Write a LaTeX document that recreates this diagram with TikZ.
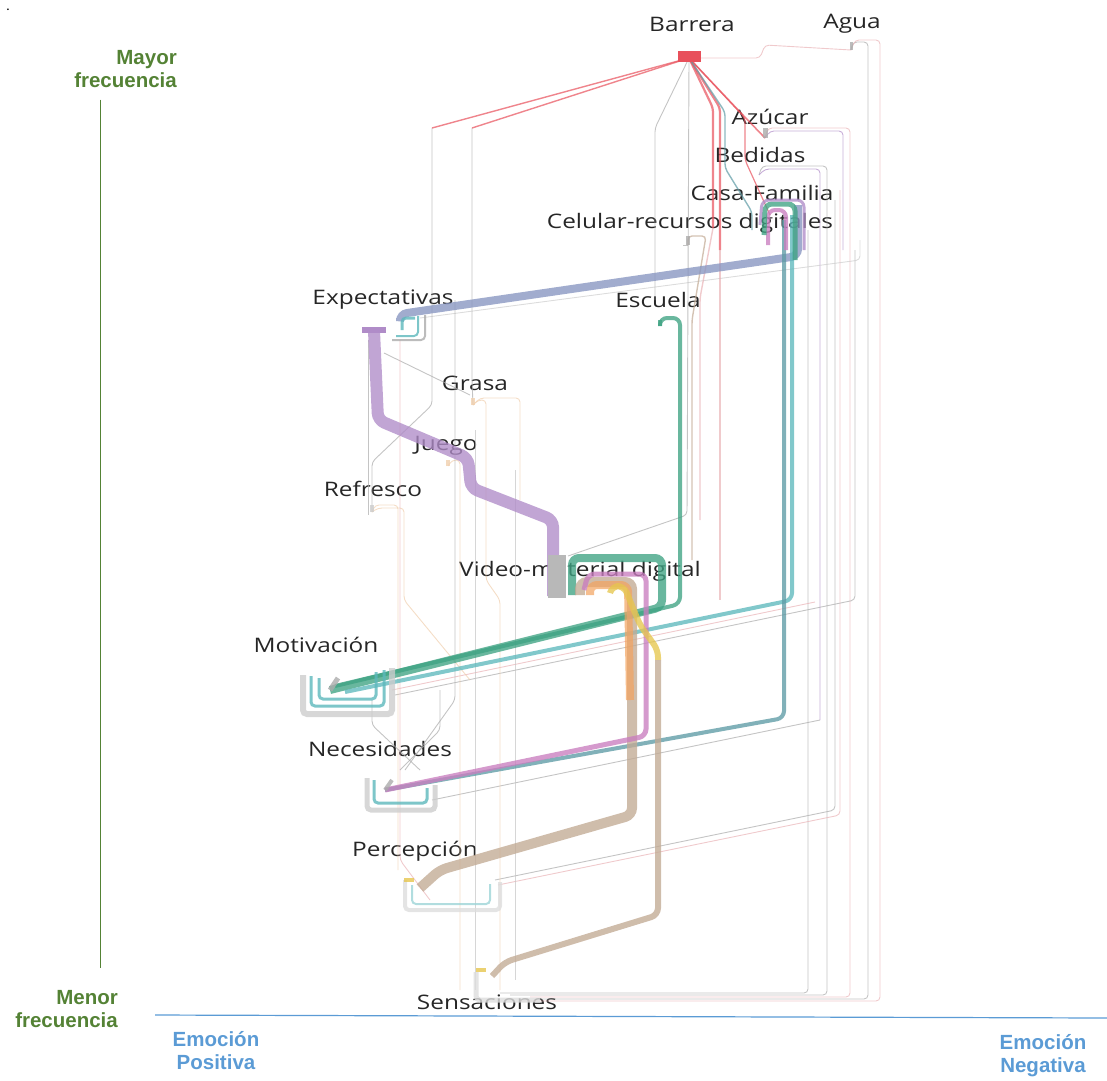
\documentclass[tikz,border=0pt]{standalone}
\usepackage{fontspec}
\setmainfont{Open Sans}
\newfontfamily\nodofont[FakeStretch=1.22]{Open Sans}
\newfontfamily\axisfont{Liberation Sans}
\usetikzlibrary{positioning,calc}

\definecolor{rojobarrera}{HTML}{E8505B}
\definecolor{morado}{HTML}{B08CC8}
\definecolor{pizarra}{HTML}{8795C0}
\definecolor{verde}{HTML}{3FA383}
\definecolor{turquesa}{HTML}{5DB8BC}
\definecolor{acero}{HTML}{5E9BA5}
\definecolor{rosa}{HTML}{C97EBF}
\definecolor{tostado}{HTML}{C2AA94}
\definecolor{naranja}{HTML}{F2A35E}
\definecolor{amarillo}{HTML}{E6C64E}
\definecolor{gris}{HTML}{ABABAB}
\definecolor{rosapalido}{HTML}{E9B3B7}
\definecolor{beige}{HTML}{F0CFAE}
\definecolor{ejeverde}{HTML}{548235}
\definecolor{ejeazul}{HTML}{5B9BD5}

\tikzset{
  etiqueta/.style={font=\nodofont\fontsize{20}{23}\selectfont, text=black!85, inner sep=0pt},
  eje/.style={font=\axisfont\bfseries\fontsize{20.5}{23}\selectfont, inner sep=0pt},
  flujo/.style={line width=#1, rounded corners=7pt, opacity=.78},
  hilo/.style={line width=.9pt, rounded corners=4pt, opacity=.7},
  puerto/.style={line width=#1, rounded corners=4pt, opacity=.8}
}

\begin{document}
\begin{tikzpicture}[x=1pt,y=-1pt]
\useasboundingbox (0,0) rectangle (1107,1080);

% ejes
\node[font=\bfseries] (punto) at (8,10) {.};
\node[eje, text=ejeverde, align=right, anchor=north east] (mayor) at (177,50) {Mayor\\frecuencia};
\node[eje, text=ejeverde, align=right, anchor=north east] (menor) at (118,990) {Menor\\frecuencia};
\draw[ejeverde, line width=1pt] (mayor.south -| 100,0) ++(0,12) -- (100,968);
\coordinate (ejeizq) at (155,1015);
\coordinate (ejeder) at (1107,1018);
\draw[ejeazul, line width=1.2pt] (ejeizq) -- (ejeder);
\node[eje, text=ejeazul, align=center] (positiva) at (216,1051) {Emoción\\Positiva};
\node[eje, text=ejeazul, align=center] (negativa) at (1043,1056) {Emoción\\Negativa};

% etiquetas de los nodos
\node[etiqueta] (barrera) at (692,24) {Barrera};
\node[etiqueta] (agua) at (852,24) {Agua};
\node[etiqueta] (azucar) at (770,117) {Azúcar};
\node[etiqueta] (bedidas) at (760,155) {Bedidas};
\node[etiqueta] (casa) at (762,193) {Casa-Familia};
\node[etiqueta] (celular) at (690,223) {Celular-recursos digitales};
\node[etiqueta] (expectativas) at (383,300) {Expectativas};
\node[etiqueta] (escuela) at (658,300) {Escuela};
\node[etiqueta] (grasa) at (475,383) {Grasa};
\node[etiqueta] (juego) at (446,446) {Juego};
\node[etiqueta] (refresco) at (373,489) {Refresco};
\node[etiqueta] (video) at (580,571) {Video-material digital};
\node[etiqueta] (motivacion) at (316,645) {Motivación};
\node[etiqueta] (necesidades) at (380,749) {Necesidades};
\node[etiqueta] (percepcion) at (415,851) {Percepción};
\node[etiqueta] (sensaciones) at (487,1002) {Sensaciones};

% puertos
\coordinate (barreraP) at (689,58);
\coordinate (aguaP) at (851,50);
\coordinate (azucarP) at (765,138);
\coordinate (bedidasP) at (759,175);
\coordinate (casaP) at (770,215);
\coordinate (celularP) at (688,245);
\coordinate (expP) at (374,331);
\coordinate (escuelaP) at (660,326);
\coordinate (grasaP) at (473,405);
\coordinate (juegoP) at (448,466);
\coordinate (refrescoP) at (372,512);
\coordinate (videoP) at (558,590);
\coordinate (motP) at (330,690);
\coordinate (necP) at (385,790);
\coordinate (perP) at (420,888);
\coordinate (senP) at (492,976);

% hilos tenues
\draw[hilo, rosapalido] (barreraP) -- (760,58) -- (765,45) -- (aguaP);
\draw[hilo, gris] (aguaP) -- (853,42) -- (868,42) -- (868,999) -- (540,999);
\draw[hilo, rosapalido] (aguaP) -- (855,40) -- (880,40) -- (880,1001) -- (520,1001);
\draw[hilo, rosapalido] (azucarP) -- (768,128) -- (850,128) -- (850,997) -- (530,997);
\draw[hilo, morado] (azucarP) -- (770,131) -- (843,131) -- (843,250);
\draw[hilo, gris] (bedidasP) -- (762,166) -- (827,166) -- (827,995) -- (510,995);
\draw[hilo, morado] (bedidasP) -- (765,169) -- (820,169) -- (820,720);
\draw[hilo, gris] (808,230) -- (808,993) -- (500,993);
\draw[hilo, gris] (835,200) -- (835,810) -- (495,880);
\draw[hilo, rosapalido] (840,190) -- (840,815) -- (498,885);
\draw[hilo, gris] (820,720) -- (432,800);
\draw[hilo, rosapalido] (815,602) -- (392,690);
\draw[hilo, gris] (855,250) -- (855,600) -- (395,695);
\draw[hilo, gris!60] (860,240) -- (860,260) -- (420,318);

% rojos desde Barrera
\draw[hilo, rojobarrera, line width=1.4pt] (barreraP) -- (432,128);
\draw[hilo, rojobarrera, line width=1.4pt] (barreraP) -- (472,128);
\draw[hilo, gris] (432,128) -- (432,405) -- (372,462) -- (refrescoP);
\draw[hilo, gris] (472,128) -- (472,380) -- (grasaP);
\draw[hilo, gris] (barreraP) -- (655,128) -- (655,300);
\draw[hilo, gris] (barreraP) -- (687,515) -- (568,556);
\draw[hilo, gris] (expP) ++(10,22) -- (470,395);
\draw[hilo, rojobarrera, line width=2.2pt] (barreraP) -- (713,108) -- (713,228);
\draw[hilo, rosapalido, line width=1.4pt] (713,228) -- (700,298) -- (700,520);
\draw[hilo, rojobarrera, line width=2.2pt] (barreraP) -- (720,108) -- (720,250);
\draw[hilo, rosapalido, line width=1.2pt] (720,250) -- (720,600);
\draw[hilo, rojobarrera, line width=1.6pt] (barreraP) -- (740,112) -- (azucarP);
\draw[hilo, rojobarrera, line width=1.2pt] (barreraP) -- (745,118) -- (745,160) -- (casaP);
\draw[hilo, acero, line width=1.4pt] (barreraP) -- (725,112) -- (725,168) -- (752,212) -- (752,230);
\draw[hilo, tostado, line width=1.4pt] (celularP) -- (688,236) -- (706,236) -- (692,320) -- (692,560);
\draw[hilo, gris] (celularP) -- (683,245);

% hilos beige de la izquierda
\draw[hilo, beige] (refrescoP) -- (375,505) -- (398,505) -- (398,870);
\draw[hilo, beige] (refrescoP) -- (378,508) -- (404,508) -- (404,600) -- (470,680);
\draw[hilo, beige] (juegoP) -- (452,460) -- (460,460) -- (460,990);
\draw[hilo, beige] (grasaP) -- (478,400) -- (486,400) -- (486,580) -- (500,600) -- (500,990);
\draw[hilo, beige] (grasaP) -- (480,398) -- (520,398) -- (520,500);
\draw[hilo, gris] (368,340) -- (368,515);
\draw[hilo, gris] (455,300) -- (455,700) -- (405,770);
\draw[hilo, gris!70] (475,430) -- (475,990);
\draw[hilo, gris!70] (515,470) -- (515,980);
\draw[hilo, rosapalido] (400,340) -- (400,860) -- (430,900);
\draw[hilo, gris] (372,700) -- (372,725) -- (420,770);
\draw[hilo, gris] (440,690) -- (440,730) -- (400,770);

% flujos gruesos
\draw[flujo=12pt, morado] (expP) -- (378,420) -- (468,458) -- (471,488) -- (553,520) -- (553,596);
\fill[morado] (362,327) rectangle (386,333);
\draw[flujo=8pt, pizarra] (400,318) -- (400,314) -- (798,256) -- (798,205);
\draw[puerto=3pt, turquesa] (402,330) -- (402,318) -- (415,318);
\draw[puerto=2pt, gris] (392,340) -- (425,340) -- (425,315);
\draw[puerto=2pt, turquesa] (396,336) -- (418,336) -- (418,316);

\draw[flujo=8pt, verde] (videoP) ++(14,5) -- (572,558) -- (662,558) -- (662,607) -- (motP);
\draw[flujo=4pt, verde] (escuelaP) -- (660,318) -- (680,318) -- (680,604) -- (335,686);
\draw[flujo=4pt, turquesa] (casaP) ++(22,0) -- (792,600) -- (345,692);
\draw[flujo=4pt, acero] (casaP) ++(14,5) -- (784,718) -- (necP);
\draw[flujo=4pt, rosa] (casaP) ++(-2,30) -- (768,210) -- (786,210) -- (786,250);
\draw[flujo=5pt, verde] (casaP) ++(-6,20) -- (765,204) -- (795,204) -- (795,260);
\draw[flujo=3pt, morado] (casaP) ++(-10,10) -- (762,200) -- (804,200) -- (804,250);

\draw[flujo=10pt, tostado] (videoP) ++(22,5) -- (580,582) -- (632,582) -- (632,815) -- (440,870) -- (perP);
\draw[flujo=8pt, naranja, opacity=.7] (videoP) ++(32,5) -- (590,585) -- (628,585) -- (630,700);
\draw[flujo=5pt, rosa] (videoP) ++(26,0) -- (588,574) -- (646,574) -- (646,736) -- (necP);
\draw[flujo=6pt, amarillo] (videoP) ++(52,3) -- (612,586) -- (624,586) -- (640,625) -- (658,650) -- (658,660);
\draw[flujo=6pt, tostado] (658,660) -- (658,915) -- (505,962) -- (senP);
\fill[gris!85] (548,555) rectangle (566,598);

% marcos de los puertos
\draw[puerto=6pt, gris!60] (303,675) -- (303,714) -- (392,714) -- (392,668);
\draw[puerto=3pt, turquesa] (311,676) -- (311,706) -- (384,706) -- (384,670);
\draw[puerto=3pt, turquesa] (319,678) -- (319,699) -- (376,699) -- (376,672);
\draw[puerto=5pt, gris] (motP) -- (338,678);
\draw[puerto=5pt, gris!60] (367,778) -- (367,810) -- (435,810) -- (435,785);
\draw[puerto=3pt, turquesa] (374,780) -- (374,803) -- (427,803) -- (427,788);
\draw[puerto=4pt, gris] (necP) -- (392,780);
\draw[puerto=4pt, gris!40] (405,880) -- (405,910) -- (500,910) -- (500,882);
\draw[puerto=2pt, turquesa!60] (412,885) -- (412,904) -- (490,904) -- (490,884);
\draw[puerto=4pt, amarillo] (404,880) -- (414,880);
\draw[puerto=5pt, gris!40] (476,972) -- (476,1000) -- (540,1000);
\draw[puerto=4pt, amarillo] (476,970) -- (486,970);
\fill[rojobarrera] (678,51) rectangle (701,62);
\draw[puerto=5pt, gris] (azucarP) -- (765,128);
\draw[puerto=4pt, gris] (celularP) -- (688,236);
\draw[puerto=4pt, verde] (escuelaP) -- (660,320);
\draw[puerto=4pt, beige] (grasaP) -- (473,398);
\draw[puerto=4pt, beige] (juegoP) -- (448,460);
\draw[puerto=4pt, gris!60] (refrescoP) -- (372,505);
\draw[puerto=3pt, gris] (aguaP) -- (851,42);
\end{tikzpicture}
\end{document}
